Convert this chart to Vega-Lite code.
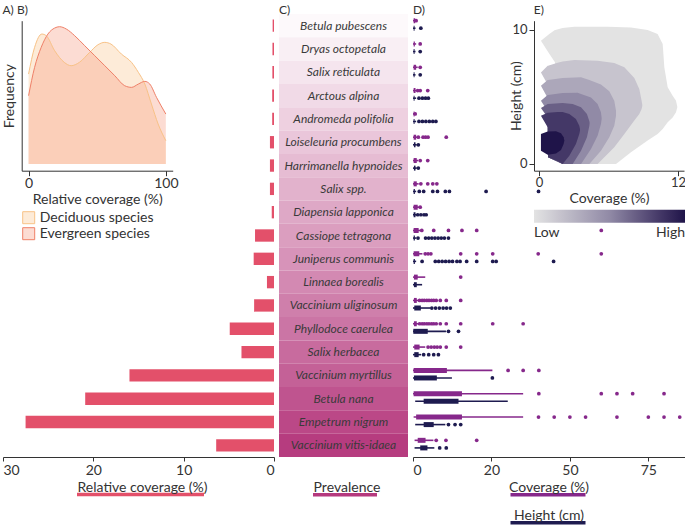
{
  "$schema": "https://vega.github.io/schema/vega-lite/v6.json",
  "padding": {"left": 2, "top": 4, "right": 0, "bottom": 0},
  "bounds": "flush",
  "spacing": 5,
  "resolve": {"scale": {"color": "independent", "fill": "independent", "stroke": "independent"}, "legend": {"color": "independent", "fill": "independent", "stroke": "independent"}},
  "config": {
    "font": "Lato",
    "view": {"stroke": null},
    "axis": {"grid": false, "domainColor": "#333333", "tickColor": "#333333", "labelColor": "#333333", "titleColor": "#333333", "labelFontSize": 14, "titleFontSize": 14, "titleFontWeight": "normal", "tickSize": 4, "labelPadding": 2},
    "legend": {"padding": 0, "labelColor": "#333333", "labelFontSize": 13, "titleFontWeight": "normal"},
    "title": {"fontSize": 12, "fontWeight": "normal", "color": "#333333", "anchor": "start", "offset": -3}
  },
  "datasets": {
    "species": [
      {"id": 1, "species": "Betula pubescens", "relcov": 0.15, "prevalence": 3},
      {"id": 2, "species": "Dryas octopetala", "relcov": 0.17, "prevalence": 8},
      {"id": 3, "species": "Salix reticulata", "relcov": 0.18, "prevalence": 13},
      {"id": 4, "species": "Arctous alpina", "relcov": 0.2, "prevalence": 18},
      {"id": 5, "species": "Andromeda polifolia", "relcov": 0.2, "prevalence": 23},
      {"id": 6, "species": "Loiseleuria procumbens", "relcov": 0.45, "prevalence": 28},
      {"id": 7, "species": "Harrimanella hypnoides", "relcov": 0.45, "prevalence": 33},
      {"id": 8, "species": "Salix spp.", "relcov": 0.45, "prevalence": 38},
      {"id": 9, "species": "Diapensia lapponica", "relcov": 0.25, "prevalence": 43},
      {"id": 10, "species": "Cassiope tetragona", "relcov": 2.1, "prevalence": 48},
      {"id": 11, "species": "Juniperus communis", "relcov": 2.25, "prevalence": 53},
      {"id": 12, "species": "Linnaea borealis", "relcov": 0.78, "prevalence": 58},
      {"id": 13, "species": "Vaccinium uliginosum", "relcov": 2.2, "prevalence": 63},
      {"id": 14, "species": "Phyllodoce caerulea", "relcov": 4.9, "prevalence": 68},
      {"id": 15, "species": "Salix herbacea", "relcov": 3.6, "prevalence": 73},
      {"id": 16, "species": "Vaccinium myrtillus", "relcov": 16.0, "prevalence": 78},
      {"id": 17, "species": "Betula nana", "relcov": 20.9, "prevalence": 84},
      {"id": 18, "species": "Empetrum nigrum", "relcov": 27.5, "prevalence": 90},
      {"id": 19, "species": "Vaccinium vitis-idaea", "relcov": 6.4, "prevalence": 96}
    ],
    "boxes": [
      {"id": 1, "v": "Coverage (%)", "lo": 0, "q1": 0.2, "q3": 0.7, "hi": 1},
      {"id": 2, "v": "Coverage (%)", "lo": 0, "q1": 0.2, "q3": 0.6, "hi": 1},
      {"id": 3, "v": "Coverage (%)", "lo": 0, "q1": 0.2, "q3": 1.0, "hi": 1.5},
      {"id": 4, "v": "Coverage (%)", "lo": 0, "q1": 0.2, "q3": 0.8, "hi": 1.2},
      {"id": 5, "v": "Coverage (%)", "lo": 0, "q1": 0.2, "q3": 0.5, "hi": 0.8},
      {"id": 6, "v": "Coverage (%)", "lo": 0, "q1": 0.2, "q3": 1.0, "hi": 1.3},
      {"id": 7, "v": "Coverage (%)", "lo": 0, "q1": 0.2, "q3": 1.2, "hi": 1.6},
      {"id": 8, "v": "Coverage (%)", "lo": 0, "q1": 0.2, "q3": 1.2, "hi": 1.8},
      {"id": 9, "v": "Coverage (%)", "lo": 0, "q1": 0.2, "q3": 1.5, "hi": 2},
      {"id": 10, "v": "Coverage (%)", "lo": 0, "q1": 0.2, "q3": 1.8, "hi": 2.6},
      {"id": 11, "v": "Coverage (%)", "lo": 0, "q1": 0.2, "q3": 2.0, "hi": 3},
      {"id": 12, "v": "Coverage (%)", "lo": 0, "q1": 0.3, "q3": 1.5, "hi": 3.9},
      {"id": 13, "v": "Coverage (%)", "lo": 0, "q1": 0.3, "q3": 1.2, "hi": 1.8},
      {"id": 14, "v": "Coverage (%)", "lo": 0, "q1": 0.3, "q3": 1.2, "hi": 1.8},
      {"id": 15, "v": "Coverage (%)", "lo": 0, "q1": 0.4, "q3": 2.1, "hi": 3.9},
      {"id": 16, "v": "Coverage (%)", "lo": 0, "q1": 0.2, "q3": 10.8, "hi": 25.3},
      {"id": 17, "v": "Coverage (%)", "lo": 0, "q1": 0.2, "q3": 15.6, "hi": 35.1},
      {"id": 18, "v": "Coverage (%)", "lo": 0.2, "q1": 1.0, "q3": 15.6, "hi": 35.1},
      {"id": 19, "v": "Coverage (%)", "lo": 0.5, "q1": 1.5, "q3": 4.0, "hi": 6.5},
      {"id": 1, "v": "Height (cm)", "lo": 0, "q1": 0.2, "q3": 0.5, "hi": 0.8},
      {"id": 2, "v": "Height (cm)", "lo": 0, "q1": 0.2, "q3": 0.5, "hi": 0.8},
      {"id": 3, "v": "Height (cm)", "lo": 0, "q1": 0.2, "q3": 0.5, "hi": 0.8},
      {"id": 4, "v": "Height (cm)", "lo": 0, "q1": 0.2, "q3": 0.5, "hi": 1.0},
      {"id": 5, "v": "Height (cm)", "lo": 0, "q1": 0.2, "q3": 0.5, "hi": 1.0},
      {"id": 6, "v": "Height (cm)", "lo": 0, "q1": 0.3, "q3": 0.8, "hi": 1.2},
      {"id": 7, "v": "Height (cm)", "lo": 0, "q1": 0.3, "q3": 0.8, "hi": 1.2},
      {"id": 8, "v": "Height (cm)", "lo": 0, "q1": 0.2, "q3": 0.6, "hi": 1.0},
      {"id": 9, "v": "Height (cm)", "lo": 0, "q1": 0.2, "q3": 0.8, "hi": 1.2},
      {"id": 10, "v": "Height (cm)", "lo": 0, "q1": 0.2, "q3": 0.6, "hi": 1.0},
      {"id": 11, "v": "Height (cm)", "lo": 0, "q1": 0.2, "q3": 0.6, "hi": 1.0},
      {"id": 12, "v": "Height (cm)", "lo": 0, "q1": 0.3, "q3": 1.2, "hi": 2.9},
      {"id": 13, "v": "Height (cm)", "lo": 0, "q1": 0.4, "q3": 2.5, "hi": 5.5},
      {"id": 14, "v": "Height (cm)", "lo": 0, "q1": 0.1, "q3": 4.7, "hi": 10.5},
      {"id": 15, "v": "Height (cm)", "lo": 0, "q1": 0.4, "q3": 1.8, "hi": 2.6},
      {"id": 16, "v": "Height (cm)", "lo": 0, "q1": 0.3, "q3": 7.6, "hi": 12.4},
      {"id": 17, "v": "Height (cm)", "lo": 0.7, "q1": 3.4, "q3": 14.5, "hi": 30.2},
      {"id": 18, "v": "Height (cm)", "lo": 0.7, "q1": 3.4, "q3": 6.6, "hi": 10.3},
      {"id": 19, "v": "Height (cm)", "lo": 0.5, "q1": 2.3, "q3": 4.6, "hi": 6.8}
    ],
    "points": [
      {"id": 1, "v": "Coverage (%)", "x": 1.0},
      {"id": 2, "v": "Coverage (%)", "x": 2.3},
      {"id": 3, "v": "Coverage (%)", "x": 2.3},
      {"id": 4, "v": "Coverage (%)", "x": 1.5}, {"id": 4, "v": "Coverage (%)", "x": 2.3}, {"id": 4, "v": "Coverage (%)", "x": 4.7},
      {"id": 5, "v": "Coverage (%)", "x": 0.7},
      {"id": 6, "v": "Coverage (%)", "x": 1.7}, {"id": 6, "v": "Coverage (%)", "x": 3.2}, {"id": 6, "v": "Coverage (%)", "x": 4.0}, {"id": 6, "v": "Coverage (%)", "x": 4.8}, {"id": 6, "v": "Coverage (%)", "x": 10.6},
      {"id": 7, "v": "Coverage (%)", "x": 2.3}, {"id": 7, "v": "Coverage (%)", "x": 4.7},
      {"id": 8, "v": "Coverage (%)", "x": 2.5}, {"id": 8, "v": "Coverage (%)", "x": 4.7}, {"id": 8, "v": "Coverage (%)", "x": 6.3}, {"id": 8, "v": "Coverage (%)", "x": 7.6},
      {"id": 9, "v": "Coverage (%)", "x": 2.3},
      {"id": 10, "v": "Coverage (%)", "x": 2.8}, {"id": 10, "v": "Coverage (%)", "x": 6.6}, {"id": 10, "v": "Coverage (%)", "x": 11.3}, {"id": 10, "v": "Coverage (%)", "x": 15.6}, {"id": 10, "v": "Coverage (%)", "x": 20.3}, {"id": 10, "v": "Coverage (%)", "x": 60},
      {"id": 11, "v": "Coverage (%)", "x": 3.9}, {"id": 11, "v": "Coverage (%)", "x": 4.8}, {"id": 11, "v": "Coverage (%)", "x": 5.7}, {"id": 11, "v": "Coverage (%)", "x": 15.2}, {"id": 11, "v": "Coverage (%)", "x": 20.3}, {"id": 11, "v": "Coverage (%)", "x": 25.4}, {"id": 11, "v": "Coverage (%)", "x": 39.9}, {"id": 11, "v": "Coverage (%)", "x": 60},
      {"id": 12, "v": "Coverage (%)", "x": 15.2},
      {"id": 13, "v": "Coverage (%)", "x": 2.1}, {"id": 13, "v": "Coverage (%)", "x": 2.9}, {"id": 13, "v": "Coverage (%)", "x": 3.6}, {"id": 13, "v": "Coverage (%)", "x": 4.4}, {"id": 13, "v": "Coverage (%)", "x": 5.1}, {"id": 13, "v": "Coverage (%)", "x": 5.9}, {"id": 13, "v": "Coverage (%)", "x": 6.6}, {"id": 13, "v": "Coverage (%)", "x": 7.4}, {"id": 13, "v": "Coverage (%)", "x": 8.7}, {"id": 13, "v": "Coverage (%)", "x": 10.6}, {"id": 13, "v": "Coverage (%)", "x": 15.2},
      {"id": 14, "v": "Coverage (%)", "x": 2.1}, {"id": 14, "v": "Coverage (%)", "x": 2.9}, {"id": 14, "v": "Coverage (%)", "x": 3.6}, {"id": 14, "v": "Coverage (%)", "x": 4.4}, {"id": 14, "v": "Coverage (%)", "x": 5.1}, {"id": 14, "v": "Coverage (%)", "x": 5.9}, {"id": 14, "v": "Coverage (%)", "x": 6.6}, {"id": 14, "v": "Coverage (%)", "x": 7.4}, {"id": 14, "v": "Coverage (%)", "x": 8.7}, {"id": 14, "v": "Coverage (%)", "x": 10.6}, {"id": 14, "v": "Coverage (%)", "x": 15.2}, {"id": 14, "v": "Coverage (%)", "x": 25.4}, {"id": 14, "v": "Coverage (%)", "x": 35.1},
      {"id": 15, "v": "Coverage (%)", "x": 4.8}, {"id": 15, "v": "Coverage (%)", "x": 5.8}, {"id": 15, "v": "Coverage (%)", "x": 6.8}, {"id": 15, "v": "Coverage (%)", "x": 7.7}, {"id": 15, "v": "Coverage (%)", "x": 8.7}, {"id": 15, "v": "Coverage (%)", "x": 10.6}, {"id": 15, "v": "Coverage (%)", "x": 15.2},
      {"id": 16, "v": "Coverage (%)", "x": 30.3}, {"id": 16, "v": "Coverage (%)", "x": 35.1}, {"id": 16, "v": "Coverage (%)", "x": 40.1},
      {"id": 17, "v": "Coverage (%)", "x": 40.1}, {"id": 17, "v": "Coverage (%)", "x": 60}, {"id": 17, "v": "Coverage (%)", "x": 65}, {"id": 17, "v": "Coverage (%)", "x": 70}, {"id": 17, "v": "Coverage (%)", "x": 80},
      {"id": 18, "v": "Coverage (%)", "x": 40}, {"id": 18, "v": "Coverage (%)", "x": 45}, {"id": 18, "v": "Coverage (%)", "x": 50}, {"id": 18, "v": "Coverage (%)", "x": 55}, {"id": 18, "v": "Coverage (%)", "x": 65}, {"id": 18, "v": "Coverage (%)", "x": 75}, {"id": 18, "v": "Coverage (%)", "x": 80}, {"id": 18, "v": "Coverage (%)", "x": 85},
      {"id": 19, "v": "Coverage (%)", "x": 7.4}, {"id": 19, "v": "Coverage (%)", "x": 10.5}, {"id": 19, "v": "Coverage (%)", "x": 20.3},
      {"id": 1, "v": "Height (cm)", "x": 2.5},
      {"id": 2, "v": "Height (cm)", "x": 2.3},
      {"id": 3, "v": "Height (cm)", "x": 2.3},
      {"id": 4, "v": "Height (cm)", "x": 1.9}, {"id": 4, "v": "Height (cm)", "x": 3.0}, {"id": 4, "v": "Height (cm)", "x": 4.0}, {"id": 4, "v": "Height (cm)", "x": 4.9},
      {"id": 5, "v": "Height (cm)", "x": 1.9}, {"id": 5, "v": "Height (cm)", "x": 3.0}, {"id": 5, "v": "Height (cm)", "x": 4.1}, {"id": 5, "v": "Height (cm)", "x": 5.2}, {"id": 5, "v": "Height (cm)", "x": 6.3}, {"id": 5, "v": "Height (cm)", "x": 7.3},
      {"id": 6, "v": "Height (cm)", "x": 1.7},
      {"id": 7, "v": "Height (cm)", "x": 1.7},
      {"id": 8, "v": "Height (cm)", "x": 2.0}, {"id": 8, "v": "Height (cm)", "x": 3.4}, {"id": 8, "v": "Height (cm)", "x": 6.3}, {"id": 8, "v": "Height (cm)", "x": 7.8}, {"id": 8, "v": "Height (cm)", "x": 10.3}, {"id": 8, "v": "Height (cm)", "x": 11.6}, {"id": 8, "v": "Height (cm)", "x": 23.3}, {"id": 8, "v": "Height (cm)", "x": 40},
      {"id": 9, "v": "Height (cm)", "x": 1.5}, {"id": 9, "v": "Height (cm)", "x": 2.5}, {"id": 9, "v": "Height (cm)", "x": 3.5}, {"id": 9, "v": "Height (cm)", "x": 4.2},
      {"id": 10, "v": "Height (cm)", "x": 1.6}, {"id": 10, "v": "Height (cm)", "x": 4.0}, {"id": 10, "v": "Height (cm)", "x": 5.0}, {"id": 10, "v": "Height (cm)", "x": 6.0}, {"id": 10, "v": "Height (cm)", "x": 7.0}, {"id": 10, "v": "Height (cm)", "x": 8.0}, {"id": 10, "v": "Height (cm)", "x": 9.0}, {"id": 10, "v": "Height (cm)", "x": 10.0}, {"id": 10, "v": "Height (cm)", "x": 11.3},
      {"id": 11, "v": "Height (cm)", "x": 2.9}, {"id": 11, "v": "Height (cm)", "x": 7.1}, {"id": 11, "v": "Height (cm)", "x": 8.2}, {"id": 11, "v": "Height (cm)", "x": 9.3}, {"id": 11, "v": "Height (cm)", "x": 10.4}, {"id": 11, "v": "Height (cm)", "x": 11.5}, {"id": 11, "v": "Height (cm)", "x": 12.6}, {"id": 11, "v": "Height (cm)", "x": 14.0}, {"id": 11, "v": "Height (cm)", "x": 15.0}, {"id": 11, "v": "Height (cm)", "x": 17.1}, {"id": 11, "v": "Height (cm)", "x": 20.3}, {"id": 11, "v": "Height (cm)", "x": 25.4}, {"id": 11, "v": "Height (cm)", "x": 26.5}, {"id": 11, "v": "Height (cm)", "x": 44.8},
      {"id": 13, "v": "Height (cm)", "x": 6.0}, {"id": 13, "v": "Height (cm)", "x": 7.2}, {"id": 13, "v": "Height (cm)", "x": 8.4}, {"id": 13, "v": "Height (cm)", "x": 9.6}, {"id": 13, "v": "Height (cm)", "x": 10.7}, {"id": 13, "v": "Height (cm)", "x": 11.9},
      {"id": 14, "v": "Height (cm)", "x": 11.3}, {"id": 14, "v": "Height (cm)", "x": 14.5},
      {"id": 15, "v": "Height (cm)", "x": 3.4}, {"id": 15, "v": "Height (cm)", "x": 5.0}, {"id": 15, "v": "Height (cm)", "x": 6.6}, {"id": 15, "v": "Height (cm)", "x": 8.1},
      {"id": 16, "v": "Height (cm)", "x": 25.3},
      {"id": 18, "v": "Height (cm)", "x": 11.3}, {"id": 18, "v": "Height (cm)", "x": 13.4}, {"id": 18, "v": "Height (cm)", "x": 15.2},
      {"id": 19, "v": "Height (cm)", "x": 8.5}, {"id": 19, "v": "Height (cm)", "x": 10.6}
    ],
    "density": [
      {"t": "Deciduous species", "x": 0, "y": 2.7},
      {"t": "Deciduous species", "x": 4.4, "y": 3.5},
      {"t": "Deciduous species", "x": 9.7, "y": 3.9},
      {"t": "Deciduous species", "x": 12.9, "y": 3.85},
      {"t": "Deciduous species", "x": 19, "y": 3.4},
      {"t": "Deciduous species", "x": 26, "y": 3.05},
      {"t": "Deciduous species", "x": 31, "y": 2.95},
      {"t": "Deciduous species", "x": 37, "y": 3.05},
      {"t": "Deciduous species", "x": 44.5, "y": 3.35},
      {"t": "Deciduous species", "x": 50.6, "y": 3.58},
      {"t": "Deciduous species", "x": 55.5, "y": 3.65},
      {"t": "Deciduous species", "x": 60, "y": 3.6},
      {"t": "Deciduous species", "x": 67.6, "y": 3.3},
      {"t": "Deciduous species", "x": 75, "y": 3.05},
      {"t": "Deciduous species", "x": 80, "y": 2.75},
      {"t": "Deciduous species", "x": 84.7, "y": 2.4},
      {"t": "Deciduous species", "x": 89.5, "y": 1.8},
      {"t": "Deciduous species", "x": 94.4, "y": 1.2},
      {"t": "Deciduous species", "x": 100, "y": 0.7},
      {"t": "Evergreen species", "x": 0, "y": 2.05},
      {"t": "Evergreen species", "x": 4.4, "y": 2.9},
      {"t": "Evergreen species", "x": 9.2, "y": 3.5},
      {"t": "Evergreen species", "x": 14.1, "y": 3.9},
      {"t": "Evergreen species", "x": 19, "y": 4.08},
      {"t": "Evergreen species", "x": 22.6, "y": 4.12},
      {"t": "Evergreen species", "x": 27.5, "y": 4.05},
      {"t": "Evergreen species", "x": 33.6, "y": 3.85},
      {"t": "Evergreen species", "x": 40.9, "y": 3.55},
      {"t": "Evergreen species", "x": 48.2, "y": 3.25},
      {"t": "Evergreen species", "x": 55.5, "y": 2.95},
      {"t": "Evergreen species", "x": 62.8, "y": 2.65},
      {"t": "Evergreen species", "x": 70, "y": 2.35},
      {"t": "Evergreen species", "x": 75, "y": 2.3},
      {"t": "Evergreen species", "x": 80, "y": 2.4},
      {"t": "Evergreen species", "x": 84.7, "y": 2.48},
      {"t": "Evergreen species", "x": 88.3, "y": 2.4},
      {"t": "Evergreen species", "x": 93.2, "y": 2.0},
      {"t": "Evergreen species", "x": 100, "y": 1.5}
    ],
    "contour": [
      {"lv": 1, "c": 0.17, "lo": 9.18, "hi": 9.18}, {"lv": 1, "c": 0.89, "lo": 8.21, "hi": 9.68}, {"lv": 1, "c": 1.38, "lo": 7.57, "hi": 9.98}, {"lv": 1, "c": 1.41, "lo": 0.25, "hi": 9.98}, {"lv": 1, "c": 2.04, "lo": 0, "hi": 10.12}, {"lv": 1, "c": 3.05, "lo": 0, "hi": 10.22}, {"lv": 1, "c": 5.93, "lo": 0, "hi": 10.22}, {"lv": 1, "c": 6.65, "lo": 0, "hi": 10.2}, {"lv": 1, "c": 7.94, "lo": 0.87, "hi": 10.17}, {"lv": 1, "c": 9.38, "lo": 1.74, "hi": 9.98}, {"lv": 1, "c": 10.24, "lo": 2.23, "hi": 9.68}, {"lv": 1, "c": 10.68, "lo": 2.61, "hi": 8.93}, {"lv": 1, "c": 10.82, "lo": 2.78, "hi": 7.2}, {"lv": 1, "c": 11.11, "lo": 3.1, "hi": 5.71}, {"lv": 1, "c": 11.54, "lo": 3.47, "hi": 5.09}, {"lv": 1, "c": 11.83, "lo": 3.85, "hi": 4.71}, {"lv": 1, "c": 11.94, "lo": 4.22, "hi": 4.27},
      {"lv": 2, "c": 0.17, "lo": 6.82, "hi": 6.82}, {"lv": 2, "c": 0.75, "lo": 5.91, "hi": 7.32}, {"lv": 2, "c": 0.78, "lo": 0.5, "hi": 7.32}, {"lv": 2, "c": 1.61, "lo": 0.2, "hi": 7.54}, {"lv": 2, "c": 2.04, "lo": 0, "hi": 7.64}, {"lv": 2, "c": 3.05, "lo": 0, "hi": 7.74}, {"lv": 2, "c": 5.06, "lo": 0, "hi": 7.69}, {"lv": 2, "c": 6.5, "lo": 1.24, "hi": 7.52}, {"lv": 2, "c": 7.37, "lo": 2.23, "hi": 7.2}, {"lv": 2, "c": 8.23, "lo": 3.23, "hi": 6.4}, {"lv": 2, "c": 8.66, "lo": 3.72, "hi": 5.58}, {"lv": 2, "c": 8.86, "lo": 4.09, "hi": 4.71}, {"lv": 2, "c": 8.92, "lo": 4.34, "hi": 4.42},
      {"lv": 3, "c": 0.17, "lo": 5.83, "hi": 5.83}, {"lv": 3, "c": 0.75, "lo": 4.91, "hi": 6.25}, {"lv": 3, "c": 0.78, "lo": 0.5, "hi": 6.25}, {"lv": 3, "c": 2.04, "lo": 0, "hi": 6.4}, {"lv": 3, "c": 3.63, "lo": 0, "hi": 6.45}, {"lv": 3, "c": 4.35, "lo": 0, "hi": 6.25}, {"lv": 3, "c": 5.35, "lo": 0.99, "hi": 5.91}, {"lv": 3, "c": 6.07, "lo": 1.99, "hi": 5.41}, {"lv": 3, "c": 6.5, "lo": 2.85, "hi": 4.71}, {"lv": 3, "c": 6.65, "lo": 3.6, "hi": 3.97},
      {"lv": 4, "c": 0.17, "lo": 4.71, "hi": 4.71}, {"lv": 4, "c": 0.75, "lo": 3.92, "hi": 5.14}, {"lv": 4, "c": 0.78, "lo": 0.5, "hi": 5.14}, {"lv": 4, "c": 2.04, "lo": 0, "hi": 5.29}, {"lv": 4, "c": 3.34, "lo": 0, "hi": 5.31}, {"lv": 4, "c": 3.63, "lo": 0, "hi": 5.21}, {"lv": 4, "c": 4.49, "lo": 1.12, "hi": 4.96}, {"lv": 4, "c": 5.06, "lo": 2.11, "hi": 4.47}, {"lv": 4, "c": 5.35, "lo": 2.98, "hi": 3.85}, {"lv": 4, "c": 5.41, "lo": 3.35, "hi": 3.42},
      {"lv": 5, "c": 0.17, "lo": 4.17, "hi": 4.17}, {"lv": 5, "c": 0.75, "lo": 3.47, "hi": 4.47}, {"lv": 5, "c": 0.78, "lo": 0.5, "hi": 4.47}, {"lv": 5, "c": 2.04, "lo": 0, "hi": 4.54}, {"lv": 5, "c": 2.91, "lo": 0, "hi": 4.47}, {"lv": 5, "c": 3.63, "lo": 0.99, "hi": 4.22}, {"lv": 5, "c": 4.14, "lo": 1.99, "hi": 3.72}, {"lv": 5, "c": 4.35, "lo": 2.85, "hi": 3.18}, {"lv": 5, "c": 4.37, "lo": 3.03, "hi": 3.08},
      {"lv": 6, "c": 0.17, "lo": 3.6, "hi": 3.6}, {"lv": 6, "c": 0.75, "lo": 2.73, "hi": 3.82}, {"lv": 6, "c": 0.78, "lo": 0.5, "hi": 3.82}, {"lv": 6, "c": 1.61, "lo": 0.2, "hi": 3.87}, {"lv": 6, "c": 2.04, "lo": 0, "hi": 3.87}, {"lv": 6, "c": 2.62, "lo": 0.62, "hi": 3.72}, {"lv": 6, "c": 3.19, "lo": 1.49, "hi": 3.35}, {"lv": 6, "c": 3.48, "lo": 2.23, "hi": 2.85}, {"lv": 6, "c": 3.54, "lo": 2.48, "hi": 2.61},
      {"lv": 7, "c": 0.17, "lo": 0.99, "hi": 2.23}, {"lv": 7, "c": 0.75, "lo": 0.69, "hi": 2.41}, {"lv": 7, "c": 1.47, "lo": 0.79, "hi": 2.43}, {"lv": 7, "c": 1.9, "lo": 1.04, "hi": 2.28}, {"lv": 7, "c": 2.13, "lo": 1.49, "hi": 1.99}, {"lv": 7, "c": 2.19, "lo": 1.74, "hi": 1.74}
    ]
  },
  "hconcat": [
    {
      "width": 271,
      "height": 443,
      "title": {"text": "A)   B)"},
      "layer": [
        {
          "data": {"name": "species"},
          "mark": {"type": "bar"},
          "encoding": {
            "y": {"field": "species", "type": "nominal", "scale": {"domain": ["Betula pubescens", "Dryas octopetala", "Salix reticulata", "Arctous alpina", "Andromeda polifolia", "Loiseleuria procumbens", "Harrimanella hypnoides", "Salix spp.", "Diapensia lapponica", "Cassiope tetragona", "Juniperus communis", "Linnaea borealis", "Vaccinium uliginosum", "Phyllodoce caerulea", "Salix herbacea", "Vaccinium myrtillus", "Betula nana", "Empetrum nigrum", "Vaccinium vitis-idaea"], "paddingInner": 0.47, "paddingOuter": 0.235}, "axis": null},
            "x": {"field": "relcov", "type": "quantitative", "scale": {"domain": [0, 30], "reverse": true, "nice": false}, "axis": {"values": [0, 10, 20, 30], "title": null, "labelFlush": true}},
            "color": {"datum": "Relative coverage (%)", "type": "nominal", "scale": {"range": ["#e3506a"]},
              "legend": {"orient": "none", "legendX": 72, "legendY": 415, "title": null, "symbolType": "stroke", "symbolSize": 16129, "symbolStrokeWidth": 3.5, "labelExpr": "[datum.label, '']", "labelAlign": "center", "labelBaseline": "bottom", "labelOffset": -63.5, "labelFontSize": 14, "labelLimit": 400,
                "encode": {"symbols": {"update": {"stroke": {"value": "#e3506a"}, "strokeWidth": {"value": 3.5}}}, "labels": {"update": {"lineHeight": {"value": 5}}}}}}
          }
        },
        {
          "data": {"name": "density"},
          "layer": [
            {
              "mark": {"type": "area", "interpolate": "monotone", "fillOpacity": 0.35},
              "encoding": {
                "x": {"field": "x", "type": "quantitative", "scale": {"domain": [-5, 105], "range": [18.7, 169.7], "nice": false, "zero": false}, "axis": {"orient": "bottom", "offset": -286.3, "values": [0, 100], "title": "Relative coverage (%)", "tickSize": 5, "labelPadding": 1, "titlePadding": 2}},
                "y": {"field": "y", "type": "quantitative", "scale": {"domain": [-0.2, 4.3], "range": [156.7, 6.7], "nice": false, "zero": false}, "axis": {"orient": "left", "offset": -18.7, "ticks": false, "labels": false, "title": "Frequency", "titlePadding": 5}},
                "y2": {"datum": 0},
                "fill": {"field": "t", "type": "nominal", "scale": {"domain": ["Deciduous species", "Evergreen species"], "range": ["#f9c690", "#f69b81"]},
                  "legend": {"orient": "none", "legendX": 18.7, "legendY": 196.7, "title": null, "symbolType": "square", "symbolSize": 144, "symbolStrokeWidth": 1, "rowPadding": 0, "labelOffset": 4, "labelFontSize": 14,
                    "encode": {"symbols": {"update": {"fillOpacity": {"value": 0.35}, "stroke": {"signal": "datum.value == 'Deciduous species' ? '#f8c287' : '#ef8068'"}, "strokeWidth": {"value": 1}}}}}}
              }
            },
            {
              "mark": {"type": "line", "interpolate": "monotone", "strokeWidth": 1},
              "encoding": {
                "x": {"field": "x", "type": "quantitative"},
                "y": {"field": "y", "type": "quantitative"},
                "stroke": {"field": "t", "type": "nominal", "scale": {"domain": ["Deciduous species", "Evergreen species"], "range": ["#f8c287", "#ef8068"]}, "legend": null}
              }
            }
          ]
        }
      ],
      "resolve": {"scale": {"x": "independent", "y": "independent"}}
    },
    {
      "width": 129,
      "height": 443,
      "title": {"text": "C)"},
      "data": {"name": "species"},
      "layer": [
        {
          "mark": {"type": "rect", "strokeWidth": 0},
          "encoding": {
            "y": {"field": "species", "type": "nominal", "scale": {"domain": ["Betula pubescens", "Dryas octopetala", "Salix reticulata", "Arctous alpina", "Andromeda polifolia", "Loiseleuria procumbens", "Harrimanella hypnoides", "Salix spp.", "Diapensia lapponica", "Cassiope tetragona", "Juniperus communis", "Linnaea borealis", "Vaccinium uliginosum", "Phyllodoce caerulea", "Salix herbacea", "Vaccinium myrtillus", "Betula nana", "Empetrum nigrum", "Vaccinium vitis-idaea"], "paddingInner": 0, "paddingOuter": 0}, "axis": null},
            "fill": {"field": "prevalence", "type": "quantitative", "scale": {"type": "linear", "domain": [0, 100], "range": ["#ffffff", "#b3347a"], "interpolate": "rgb"}, "legend": null},
            "stroke": {"datum": "Prevalence", "type": "nominal", "scale": {"range": ["#b5397e"]},
              "legend": {"orient": "none", "legendX": 32, "legendY": 446.7, "title": null, "symbolType": "stroke", "symbolSize": 4096, "symbolStrokeWidth": 3.5, "labelExpr": "[datum.label, '']", "labelAlign": "center", "labelBaseline": "bottom", "labelOffset": -32, "labelFontSize": 14, "labelLimit": 400,
                "encode": {"symbols": {"update": {"stroke": {"value": "#b5397e"}, "strokeWidth": {"value": 3.5}}}, "labels": {"update": {"lineHeight": {"value": 5}}}}}}
          }
        },
        {
          "mark": {"type": "text", "fontStyle": "italic", "fontSize": 12, "color": "#3a3a3a"},
          "encoding": {
            "y": {"field": "species", "type": "nominal"},
            "text": {"field": "species"}
          }
        }
      ]
    },
    {
      "width": 273,
      "height": 443,
      "layer": [
        {
          "layer": [
            {
              "data": {"name": "boxes"},
              "transform": [{"lookup": "id", "from": {"data": {"name": "species"}, "key": "id", "fields": ["species"]}}],
              "mark": {"type": "rule", "strokeWidth": 1.6},
              "encoding": {
                "y": {"field": "species", "type": "nominal", "scale": {"domain": ["Betula pubescens", "Dryas octopetala", "Salix reticulata", "Arctous alpina", "Andromeda polifolia", "Loiseleuria procumbens", "Harrimanella hypnoides", "Salix spp.", "Diapensia lapponica", "Cassiope tetragona", "Juniperus communis", "Linnaea borealis", "Vaccinium uliginosum", "Phyllodoce caerulea", "Salix herbacea", "Vaccinium myrtillus", "Betula nana", "Empetrum nigrum", "Vaccinium vitis-idaea"], "paddingInner": 0.35, "paddingOuter": 0.175, "align": 0.35}, "axis": null},
                "yOffset": {"field": "v", "type": "nominal", "scale": {"domain": ["Coverage (%)", "Height (cm)"]}},
                "x": {"field": "lo", "type": "quantitative", "scale": {"domain": [0, 87], "nice": false}, "axis": {"values": [0, 25, 50, 75], "labelExpr": "datum.value == 25 ? '20' : datum.label", "title": null}},
                "x2": {"field": "hi"},
                "color": {"field": "v", "type": "nominal", "scale": {"domain": ["Coverage (%)", "Height (cm)"], "range": ["#86288b", "#1e1b50"]},
                  "legend": {"orient": "none", "legendX": 125.5, "legendY": 471.2, "title": null, "symbolType": "M-5,0H5", "symbolSize": 225, "symbolStrokeWidth": 3.5, "labelExpr": "[datum.label, '']", "labelAlign": "center", "labelBaseline": "bottom", "labelOffset": -8.5, "labelFontSize": 14, "labelLimit": 400, "rowPadding": 6,
                    "encode": {"symbols": {"update": {"strokeWidth": {"value": 3.5}}}, "labels": {"update": {"lineHeight": {"value": 5}, "fill": {"value": "#333333"}}}}}}
              }
            },
            {
              "data": {"name": "boxes"},
              "transform": [{"lookup": "id", "from": {"data": {"name": "species"}, "key": "id", "fields": ["species"]}}],
              "mark": {"type": "bar", "height": 5},
              "encoding": {
                "y": {"field": "species", "type": "nominal"},
                "yOffset": {"field": "v", "type": "nominal"},
                "x": {"field": "q1", "type": "quantitative"},
                "x2": {"field": "q3"},
                "color": {"field": "v", "type": "nominal"}
              }
            },
            {
              "data": {"name": "points"},
              "transform": [{"lookup": "id", "from": {"data": {"name": "species"}, "key": "id", "fields": ["species"]}}],
              "mark": {"type": "circle", "size": 14, "opacity": 1},
              "encoding": {
                "y": {"field": "species", "type": "nominal"},
                "yOffset": {"field": "v", "type": "nominal"},
                "x": {"field": "x", "type": "quantitative"},
                "color": {"field": "v", "type": "nominal"}
              }
            }
          ]
        },
        {
          "data": {"name": "contour"},
          "layer": [
            {
              "mark": {"type": "area", "interpolate": "linear"},
              "encoding": {
                "x": {"field": "c", "type": "quantitative", "scale": {"domain": [-0.43, 12.52], "range": [121, 271], "nice": false, "zero": false}, "axis": {"orient": "bottom", "offset": -286.3, "values": [0, 12], "title": "Coverage (%)", "tickSize": 5, "labelPadding": 1, "titlePadding": 2, "labelFontSize": 13}},
                "y": {"field": "hi", "type": "quantitative", "scale": {"domain": [-0.5, 10.67], "range": [156.7, 6.7], "nice": false, "zero": false}, "axis": {"orient": "left", "offset": -121, "values": [0, 10], "title": "Height (cm)", "tickSize": 5, "titlePadding": -12, "labelFontSize": 13}},
                "y2": {"field": "lo"},
                "detail": {"field": "lv", "type": "nominal"},
                "fill": {"field": "lv", "type": "quantitative", "scale": {"domain": [1, 4, 7], "range": ["#e3e3e3", "#918aa6", "#1f1449"]},
                  "legend": {"orient": "none", "legendX": 121, "legendY": 195.7, "title": null, "direction": "horizontal", "gradientLength": 151, "gradientThickness": 13, "gradientStrokeWidth": 0, "values": [1, 7], "labelExpr": "datum.value == 1 ? 'Low' : 'High'", "labelFontSize": 14, "labelOffset": 3}}
              }
            },
            {
              "data": {"values": [{}]},
              "mark": {"type": "text", "align": "left", "baseline": "middle", "fontSize": 12, "color": "#333333", "text": "D)"},
              "encoding": {
                "x": {"datum": -10.88, "type": "quantitative"},
                "y": {"datum": 11.45, "type": "quantitative"}
              }
            },
            {
              "data": {"values": [{}]},
              "mark": {"type": "text", "align": "left", "baseline": "middle", "fontSize": 12, "color": "#333333", "text": "E)"},
              "encoding": {
                "x": {"datum": -0.45, "type": "quantitative"},
                "y": {"datum": 11.45, "type": "quantitative"}
              }
            }
          ]
        }
      ],
      "resolve": {"scale": {"x": "independent", "y": "independent"}}
    }
  ]
}
